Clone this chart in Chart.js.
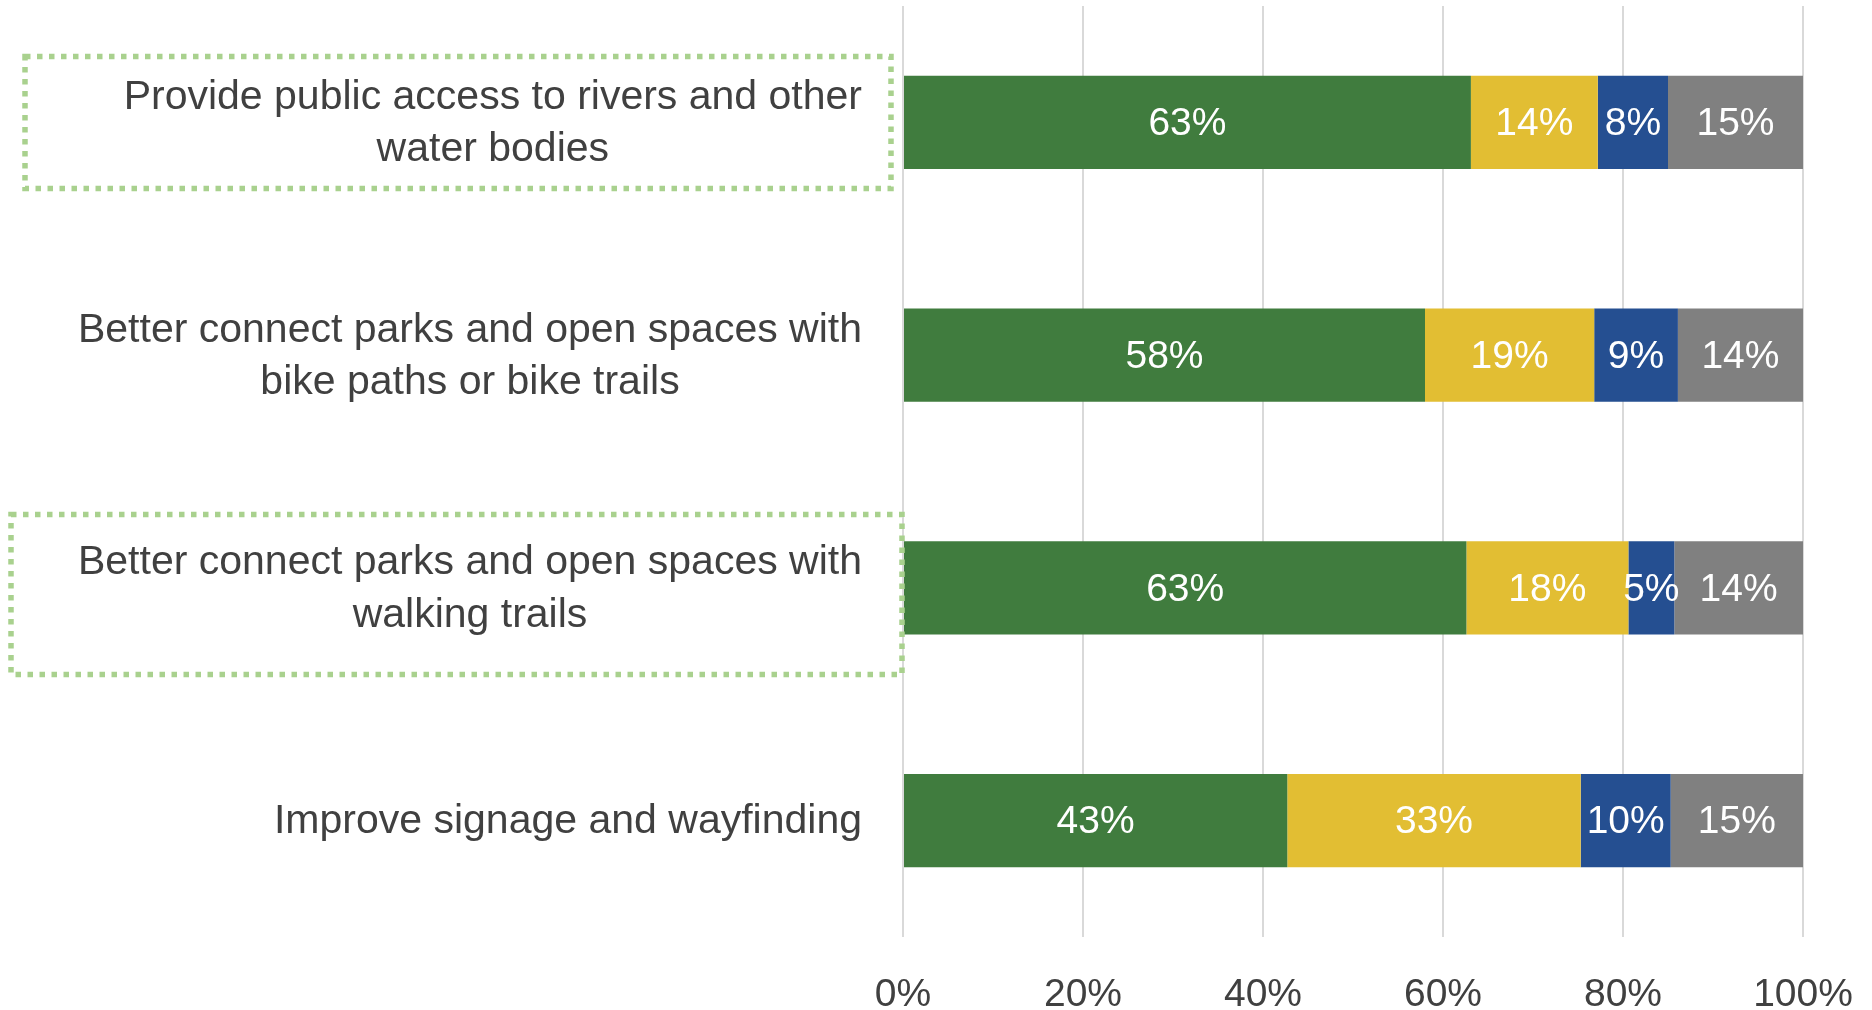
<!DOCTYPE html>
<html>
<head>
<meta charset="utf-8">
<script src="https://cdn.jsdelivr.net/npm/chart.js@4"></script>
<style>
html,body{margin:0;padding:0;background:#fff;}
canvas{display:block;}
</style>
</head>
<body>
<canvas id="chart" width="1872" height="1010"></canvas>
<script>
// survey categories (each entry = lines of the label)
const categories = [
    ["Provide public access to rivers and other", "water bodies"],
    ["Better connect parks and open spaces with", "bike paths or bike trails"],
    ["Better connect parks and open spaces with", "walking trails"],
    ["Improve signage and wayfinding"]
];

const green  = [63.1, 58.0, 62.6, 42.7];
const yellow = [14.1, 18.8, 18.0, 32.6];
const blue   = [7.8, 9.3, 5.1, 10.0];
const gray   = [15.0, 13.9, 14.3, 14.7];

const xTicks = [0, 20, 40, 60, 80, 100];

// categories with a dotted highlight box around the label
const highlighted = [0, 2];

const FONT = '"Liberation Sans", Arial, sans-serif';

Chart.defaults.font.family = FONT;

const catLabels = {
    id: "catLabels",
    afterDraw(chart){
        const ctx = chart.ctx;
        const y = chart.scales.y;
        const area = chart.chartArea;
        ctx.save();
        ctx.font = "41px " + FONT;
        ctx.fillStyle = "#404040";
        ctx.textAlign = "center";
        ctx.textBaseline = "middle";
        const right = area.left - 41;
        const lh = 52.5;
        categories.forEach((lines, i) => {
            const w = Math.max(...lines.map(t => ctx.measureText(t).width));
            const cx = right - w / 2;
            const cy = y.getPixelForValue(i);
            lines.forEach((t, k) => {
                ctx.fillText(t, cx, cy + (k - (lines.length - 1) / 2) * lh + 1.5);
            });
        });

        // dotted boxes
        const boxStyle = {
            0: {l: -878, r: -12, t: -66, b: 66},
            2: {l: -892, r: -1, t: -73.5, b: 86.5}
        };
        ctx.strokeStyle = "#A9D18E";
        ctx.lineWidth = 5.5;
        ctx.setLineDash([5.5, 6.5]);
        highlighted.forEach(i => {
            const s = boxStyle[i];
            const cy = y.getPixelForValue(i);
            ctx.strokeRect(area.left + s.l, cy + s.t, s.r - s.l, s.b - s.t);
        });
        ctx.restore();
    }
};

const valueLabels = {
    id: "valueLabels",
    afterDatasetsDraw(chart){
        const ctx = chart.ctx;
        ctx.save();
        ctx.font = "39px " + FONT;
        ctx.fillStyle = "#ffffff";
        ctx.textAlign = "center";
        ctx.textBaseline = "middle";
        chart.data.datasets.forEach((ds, di) => {
            chart.getDatasetMeta(di).data.forEach((el, i) => {
                const x = (el.x + el.base) / 2;
                ctx.fillText(Math.round(ds.data[i]) + "%", x, el.y + 2);
            });
        });
        ctx.restore();
    }
};

new Chart(document.getElementById("chart"), {
    type: "bar",
    data: {
        labels: categories,
        datasets: [
            {label: "green",  data: green,  backgroundColor: "#407C3E"},
            {label: "yellow", data: yellow, backgroundColor: "#E2BE33"},
            {label: "blue",   data: blue,   backgroundColor: "#254F91"},
            {label: "gray",   data: gray,   backgroundColor: "#808080"}
        ]
    },
    options: {
        indexAxis: "y",
        responsive: false,
        animation: false,
        layout: {padding: {left: 903, right: 69, top: 6, bottom: 0}},
        datasets: {
            bar: {barPercentage: 0.5, categoryPercentage: 0.8}
        },
        plugins: {
            legend: {display: false},
            tooltip: {enabled: false}
        },
        scales: {
            y: {
                stacked: true,
                display: false
            },
            x: {
                stacked: true,
                min: 0,
                max: 100,
                afterBuildTicks: s => { s.ticks = xTicks.map(v => ({value: v})); },
                afterFit: s => {
                    s.height = 73;
                    s.paddingLeft = 0;
                    s.paddingRight = 0;
                    s.paddingTop = 0;
                    s.paddingBottom = 0;
                },
                grid: {color: "#D9D9D9", lineWidth: 2, drawTicks: false},
                border: {display: false},
                ticks: {
                    padding: 39,
                    color: "#404040",
                    font: {size: 39, lineHeight: 1},
                    callback: v => v + "%"
                }
            }
        }
    },
    plugins: [catLabels, valueLabels]
});
</script>
</body>
</html>
